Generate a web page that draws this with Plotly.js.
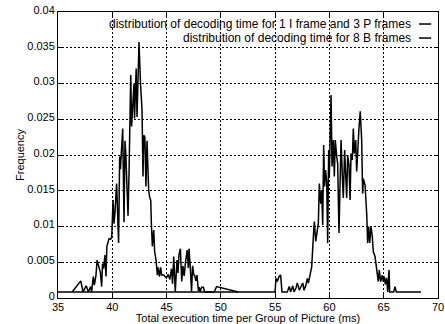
<!DOCTYPE html>
<html>
<head>
<meta charset="utf-8">
<script src="https://cdn.plot.ly/plotly-3.0.1.min.js"></script>
<style>html,body{margin:0;padding:0;background:#fff;}#chart{width:445px;height:324px;}</style>
</head>
<body>
<div id="chart"></div>
<script>
// Series 1: decoding time for 1 I frame and 3 P frames
const xIP = [36.3, 37.1, 37.3, 37.6, 37.8, 38.0, 38.1, 38.25, 38.35, 38.5, 38.6, 38.8, 38.9, 39.02, 39.1, 39.2, 39.33, 39.42, 39.5, 39.7, 39.85, 39.95,
  40.07, 40.16, 40.25, 40.4, 40.58, 40.68, 40.75, 40.82, 40.96, 41.08, 41.17, 41.25, 41.45, 41.55, 41.7, 41.78, 41.9, 42.0, 42.05, 42.2, 42.28,
  42.46, 42.6, 42.74, 42.83, 42.9, 43.0, 43.1, 43.2, 43.35, 43.45, 43.54, 43.6, 43.69, 43.75, 43.82, 43.9, 44.03, 44.15, 44.22, 44.35, 44.45,
  44.55, 44.75, 44.98, 45.15, 45.3, 45.45, 45.55, 45.66, 45.8, 45.85, 45.96, 46.05, 46.14, 46.27, 46.4, 46.5, 46.62, 46.75, 46.9, 47.0, 47.07,
  47.2, 47.3, 47.4, 47.5, 47.6, 47.7, 47.8, 47.93, 48.0, 48.1, 48.23, 48.4, 48.5, 49.4, 49.6, 49.9, 51.6];
const yIP = [0.00085, 0.0024, 0.00085, 0.0017, 0.00085, 0.0016, 0.0009, 0.003, 0.0018, 0.0032, 0.0053, 0.0039, 0.0036, 0.0016, 0.0048, 0.0041, 0.006, 0.003, 0.0072, 0.0083, 0.0082, 0.0086,
  0.0137, 0.0104, 0.012, 0.016, 0.0077, 0.0198, 0.018, 0.02, 0.0237, 0.0106, 0.022, 0.02, 0.0115, 0.018, 0.0312, 0.024, 0.0275, 0.030, 0.0251, 0.0321, 0.0253,
  0.0358, 0.030, 0.0263, 0.017, 0.0228, 0.0225, 0.0156, 0.022, 0.0151, 0.014, 0.0137, 0.0105, 0.0072, 0.0085, 0.0095, 0.0065, 0.0053, 0.0032, 0.0043, 0.003, 0.0043,
  0.0032, 0.0032, 0.0028, 0.0033, 0.0026, 0.0041, 0.002, 0.0058, 0.00085, 0.003, 0.0053, 0.0035, 0.006, 0.0069, 0.0023, 0.0045, 0.0031, 0.0051, 0.0067, 0.0042, 0.0069,
  0.0039, 0.0009, 0.0045, 0.0033, 0.0031, 0.0024, 0.0032, 0.001, 0.0015, 0.0009, 0.0015, 0.0015, 0.00085, 0.00085, 0.0016, 0.0015, 0.00085];

// Series 2: decoding time for 8 B frames
const xB = [35.0, 54.99, 55.08, 55.2, 55.36, 55.51, 55.63, 56.12, 56.3, 56.43, 56.62, 56.74, 56.92, 57.04, 57.23, 57.35, 57.54, 57.66, 57.84, 57.96, 58.06, 58.21,
  58.37, 58.52, 58.61, 58.74, 58.83, 58.98, 59.07, 59.2, 59.29, 59.38, 59.47, 59.56, 59.65, 59.75, 59.84, 59.93, 59.99, 60.05, 60.15, 60.24, 60.36, 60.45,
  60.54, 60.67, 60.76, 60.88, 60.97, 61.07, 61.19, 61.28, 61.4, 61.59, 61.68, 61.8, 61.9, 61.99, 62.11, 62.2, 62.29, 62.42, 62.51, 62.6, 62.72, 62.84, 62.97,
  63.06, 63.12, 63.28, 63.43, 63.52, 63.62, 63.71, 63.83, 63.95, 64.04, 64.2, 64.35, 64.5, 64.59, 64.72, 64.87, 64.96, 65.05, 65.15, 65.27, 65.37, 65.49,
  65.55, 65.92, 66.04, 66.16, 68.43];
const yB = [0.00085, 0.00085, 0.00275, 0.0023, 0.003, 0.0032, 0.00085, 0.00085, 0.0016, 0.00085, 0.0017, 0.00085, 0.0014, 0.0021, 0.0011, 0.0016, 0.0021, 0.0011, 0.0018, 0.00275, 0.0021, 0.0032,
  0.0044, 0.0086, 0.0107, 0.0079, 0.0091, 0.0105, 0.016, 0.0132, 0.0151, 0.0102, 0.0214, 0.0156, 0.0179, 0.0163, 0.0077, 0.0207, 0.017, 0.0207, 0.0284, 0.0184, 0.0221, 0.017,
  0.0221, 0.0198, 0.0188, 0.0091, 0.0184, 0.0221, 0.017, 0.014, 0.0207, 0.014, 0.02, 0.0186, 0.0137, 0.0202, 0.0193, 0.0237, 0.0202, 0.0221, 0.0177, 0.0212, 0.0237, 0.0261, 0.0221,
  0.0146, 0.0167, 0.0158, 0.0119, 0.0077, 0.01, 0.0077, 0.01, 0.0086, 0.0065, 0.0058, 0.0039, 0.0023, 0.0039, 0.0023, 0.0032, 0.0023, 0.003, 0.0019, 0.0028, 0.00085, 0.0039,
  0.00085, 0.00085, 0.0016, 0.00085, 0.00085];

const seriesNames = ["distribution of decoding time for 1 I frame and 3 P frames", "distribution of decoding time for 8 B frames"];
const xTicks = [35, 40, 45, 50, 55, 60, 65, 70];
const yTicks = [0, 0.005, 0.01, 0.015, 0.02, 0.025, 0.03, 0.035, 0.04];
const xTitle = "Total execution time per Group of Picture (ms)";
const yTitle = "Frequency";

const FONT = "'Liberation Sans', Arial, Helvetica, sans-serif";
const traces = [
  {x: xIP, y: yIP, name: seriesNames[0], mode: "lines", line: {color: "#000", width: 1.5}, showlegend: false},
  {x: xB, y: yB, name: seriesNames[1], mode: "lines", line: {color: "#000", width: 1.5}, showlegend: false}
];

const axisCommon = {
  automargin: false,
  showline: true, linecolor: "#000", linewidth: 1, mirror: "allticks",
  ticks: "inside", ticklen: 4, tickcolor: "#000", tickwidth: 1,
  showgrid: true, gridcolor: "#000", gridwidth: 1, griddash: "2px,2px",
  zeroline: false, tickfont: {family: FONT, size: 11, color: "#000"}
};

const legendRows = [0.958, 0.909];
const annotations = seriesNames.map((t, i) => ({
  xref: "paper", yref: "paper", x: 0.934, y: legendRows[i], xanchor: "right", yanchor: "middle",
  text: t, showarrow: false, font: {family: FONT, size: 12, color: "#000"}
}));
const shapes = seriesNames.map((t, i) => ({
  type: "line", xref: "paper", yref: "paper", x0: 0.950, x1: 0.982, y0: legendRows[i], y1: legendRows[i],
  line: {color: "#000", width: 1.5}
}));

const layout = {
  width: 445, height: 324,
  margin: {l: 58, r: 7, t: 12, b: 26, pad: 0, autoexpand: false},
  paper_bgcolor: "#fff", plot_bgcolor: "#fff",
  font: {family: FONT, size: 11, color: "#000"},
  showlegend: false,
  xaxis: Object.assign({}, axisCommon, {
    range: [35, 70], tickvals: xTicks, ticktext: xTicks.map(String),
    ticklabelstandoff: -1,
    title: {text: xTitle, font: {family: FONT, size: 11, color: "#000"}, standoff: 1}
  }),
  yaxis: Object.assign({}, axisCommon, {
    range: [0, 0.04], tickvals: yTicks, ticktext: yTicks.map(String),
    ticklabelshift: -2,
    title: {text: yTitle, font: {family: FONT, size: 11, color: "#000"}, standoff: 0}
  }),
  annotations: annotations,
  shapes: shapes
};

Plotly.newPlot("chart", traces, layout, {displayModeBar: false, staticPlot: true});
</script>
</body>
</html>
